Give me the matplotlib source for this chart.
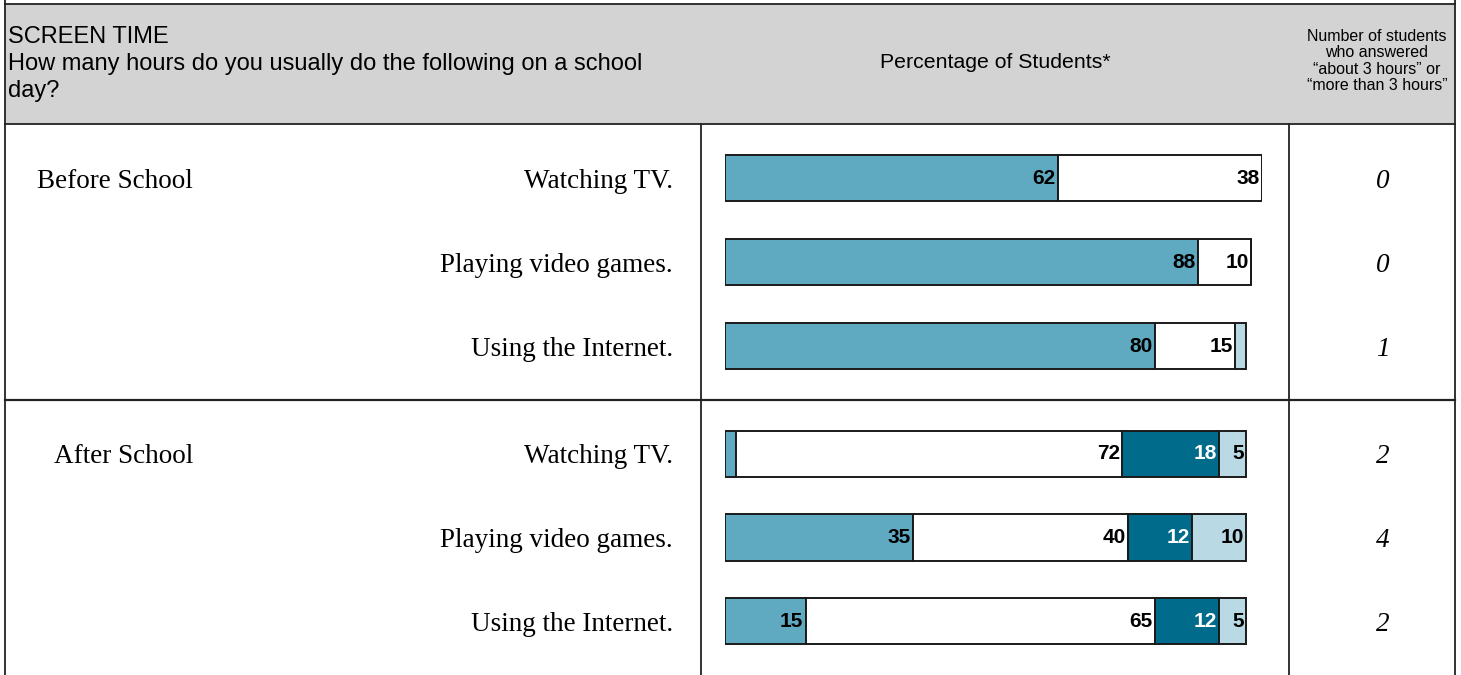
import matplotlib
matplotlib.use("Agg")
import matplotlib.pyplot as plt
from matplotlib.lines import Line2D
from matplotlib.patches import Rectangle
import matplotlib.transforms as mtransforms
import numpy as np

# data
sections = ["Before School", "After School"]
activities = ["Watching TV.", "Playing video games.", "Using the Internet."]
# columns: less than 1 hour, 1-2 hours, about 3 hours, more than 3 hours
before_pct = [
    [62, 38, 0, 0],
    [88, 10, 0, 0],
    [80, 15, 0, 2],
]
after_pct = [
    [2, 72, 18, 5],
    [35, 40, 12, 10],
    [15, 65, 12, 5],
]
before_counts = [0, 0, 1]
after_counts = [2, 4, 2]

seg_colors = ["#5fa9c1", "#ffffff", "#006b8a", "#b9d9e4"]
label_colors = ["black", "black", "white", "black"]

W, H = 1461, 675
fig = plt.figure(figsize=(W / 100, H / 100), dpi=100)
fig.patch.set_facecolor("white")

sans = "Liberation Sans"
serif = "Liberation Serif"


def fx(px):
    return px / W


def fy(py):
    return 1 - py / H


def hline(y, x0, x1, lw=1.3):
    fig.add_artist(Line2D([fx(x0), fx(x1)], [fy(y), fy(y)], color="#222222", lw=lw))


def vline(x, y0, y1, lw=1.3):
    fig.add_artist(Line2D([fx(x), fx(x)], [fy(y0), fy(y1)], color="#222222", lw=lw))


# header band and table rules
fig.add_artist(Rectangle((fx(5), fy(124)), fx(1455) - fx(5), fy(4) - fy(124),
                         facecolor="#d3d3d3", edgecolor="none"))
hline(4, 5, 1455)
hline(124, 5, 1455)
hline(400, 5, 1455, lw=1.6)
vline(5, 0, 675)
vline(1455, 0, 675)
vline(701, 124, 675)
vline(1289, 124, 675)

fig.text(fx(8), fy(64), "SCREEN TIME\nHow many hours do you usually do the following on a school\nday?",
         family=sans, fontsize=17, ha="left", va="center", linespacing=1.32)
fig.text(fx(995), fy(63), "Percentage of Students*", family=sans, fontsize=15.3,
         ha="center", va="center")
fig.text(fx(1377), fy(61), "Number of students\nwho answered\n\u201cabout 3 hours\u201d or\n\u201cmore than 3 hours\u201d",
         family=sans, fontsize=11.5, ha="center", va="center", linespacing=1.1)

# one bar panel per section
panels = [(124, 400, before_pct, before_counts), (400, 675, after_pct, after_counts)]
for (top, bottom, pct, counts), section in zip(panels, sections):
    ax = fig.add_axes([fx(725), fy(bottom), fx(1262) - fx(725), fy(top) - fy(bottom)])
    ax.set_xlim(0, 100)
    margin = 54 / 84
    ax.set_ylim(2 + margin, -margin)
    ax.axis("off")

    vals = np.array(pct, dtype=float)
    lefts = np.zeros(len(vals))
    y = np.arange(len(vals))
    for k in range(vals.shape[1]):
        ax.barh(y, vals[:, k], left=lefts, height=0.55, color=seg_colors[k],
                edgecolor="#1a1a1a", linewidth=1.4)
        for i, v in enumerate(vals[:, k]):
            if v >= 5:
                ax.annotate(f"{int(v)}", (lefts[i] + v, i), xytext=(-1.5, 0),
                            textcoords="offset points", ha="right", va="center",
                            family=sans, fontsize=15, fontweight="bold",
                            color=label_colors[k])
        lefts += vals[:, k]

    trans = mtransforms.blended_transform_factory(fig.transFigure, ax.transData)
    fig.text(fx(193), 0, section, transform=trans, family=serif, fontsize=19.5,
             ha="right", va="center_baseline")
    for i, name in enumerate(activities):
        fig.text(fx(673), i, name, transform=trans, family=serif, fontsize=19.5,
                 ha="right", va="center_baseline")
        fig.text(fx(1383), i, str(counts[i]), transform=trans, family=serif,
                 fontsize=19.5, style="italic", ha="center", va="center_baseline")

fig.savefig("out.png", dpi=100, facecolor="white")
